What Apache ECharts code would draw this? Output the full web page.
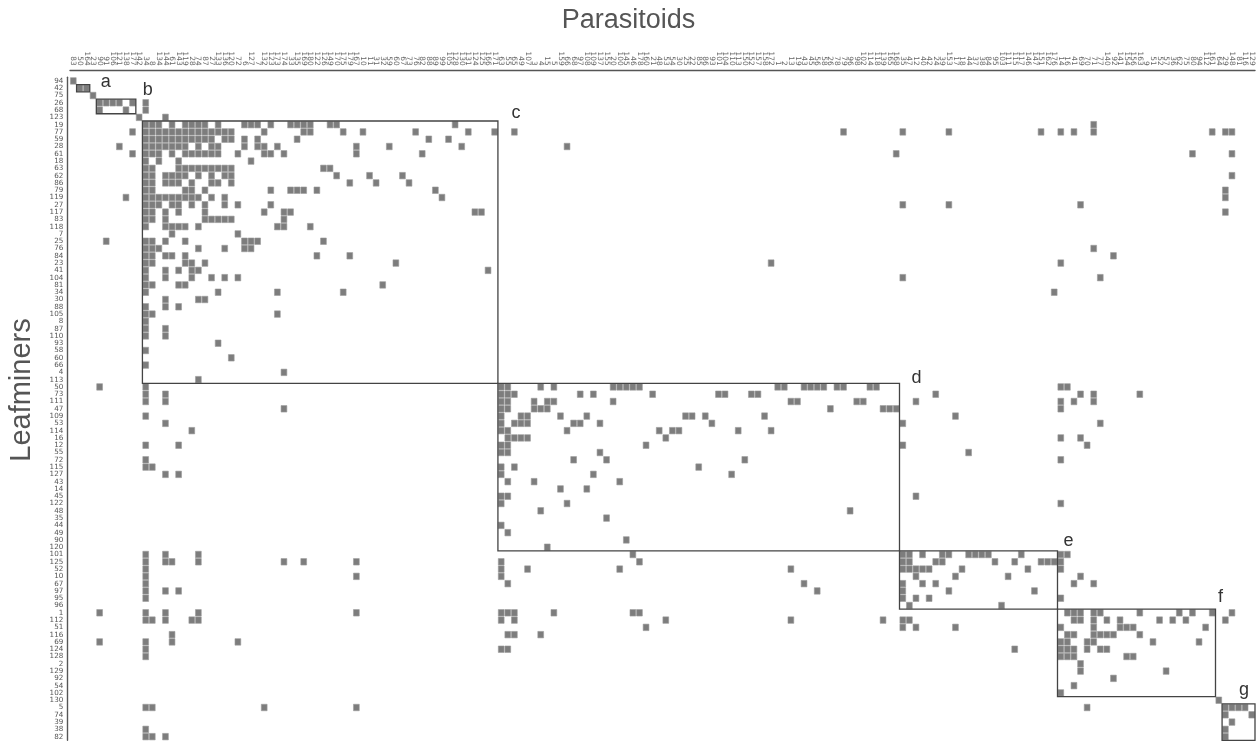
<!DOCTYPE html>
<html><head><meta charset="utf-8">
<script src="https://cdn.jsdelivr.net/npm/echarts@6/dist/echarts.min.js"></script>
<style>html,body{margin:0;padding:0;background:#fff}#c{width:1257px;height:743px}</style>
</head><body><div id="c"></div>
<script>
// Parasitoid columns (top axis), in plotted order
const parasitoids = ['83','50','164','23','90','91','106','121','138','177','142','34','8','134','144','61','143','119','28','74','87','27','133','136','120','72','6','127','7','132','123','173','174','33','135','169','180','122','126','149','170','175','179','167','10','11','31','32','59','60','67','73','76','82','88','89','99','105','128','130','131','124','125','166','171','63','55','65','49','107','3','4','15','5','159','66','68','97','108','109','137','155','20','100','145','46','178','160','21','48','53','54','30','25','22','85','86','93','101','104','110','113','150','152','157','158','172','1','2','13','19','43','45','56','58','26','78','79','96','98','102','114','118','139','165','168','35','47','12','40','42','24','39','153','17','18','44','37','38','84','95','103','111','115','117','146','147','151','162','176','14','16','41','69','70','71','77','140','92','141','154','156','163','9','51','52','57','36','62','75','80','94','112','161','64','29','148','81','116','129'];
// Leafminer rows (left axis), top to bottom
const leafminers = ['94','42','75','26','68','123','19','77','59','28','61','18','63','62','86','79','119','27','117','83','118','7','25','76','84','23','41','104','81','34','30','88','105','8','87','110','93','58','60','66','4','113','50','73','111','47','109','53','114','16','12','55','72','115','127','43','14','45','122','48','35','44','49','90','120','101','125','52','10','67','97','95','96','1','112','51','116','69','124','128','2','129','92','54','102','130','5','74','39','38','82'];
// For each leafminer row: indices of parasitoid columns with an interaction
const links = [
[0],[1,2],[3],[4,5,6,7,9,11],[4,8,11],[10,14],
[11,12,13,15,17,18,19,20,22,26,27,28,30,33,34,35,36,39,40,58,155],
[9,11,12,13,14,15,16,17,18,19,20,21,22,23,24,29,35,36,41,44,52,60,64,67,117,126,133,147,150,152,155,173,175,176],
[11,12,13,14,15,16,17,18,19,20,21,23,24,26,28,34,54,57],
[7,11,12,13,14,15,16,17,19,21,22,26,28,29,31,43,48,59,75],
[9,11,12,13,15,17,18,19,20,21,22,25,29,30,32,43,53,125,170,176],
[11,13,16,27],
[11,12,16,17,18,19,20,21,22,23,24,38,39],
[11,12,14,15,16,17,19,21,23,24,40,45,50,176],
[11,12,14,15,16,18,21,22,24,42,46,51],
[11,12,17,18,20,30,33,34,35,37,55,175],
[8,11,12,13,14,15,16,17,18,19,21,23,56,175],
[11,12,13,15,16,18,20,23,25,30,126,133,153],
[11,12,14,16,20,29,32,33,61,62,175],
[11,12,14,20,21,22,23,24,32],
[11,14,15,16,17,19,31,32,36],
[15,25],
[5,11,12,14,17,26,27,28,38],
[11,12,13,19,23,26,27,155],
[11,12,14,15,17,37,42,158],
[11,12,17,18,20,49,106,150],
[11,14,16,18,19,63],
[11,14,18,21,23,25,126,156],
[11,12,16,17,47],
[11,22,31,41,149],
[14,19,20],[11,14,16],[11,12,31],[11],[11,14],[11,14],[22],[11],[24],[11],[32],[19],
[4,11,65,66,71,73,82,83,84,85,86,107,108,111,112,113,114,116,117,121,122,150,151],
[11,14,65,66,67,77,79,88,98,99,103,104,131,153,155,162],
[11,14,65,66,70,72,73,82,109,110,119,120,128,150,152,155],
[32,65,66,70,71,72,115,123,124,125,150],
[11,65,68,69,74,78,93,94,96,105,134],
[14,65,67,68,69,76,77,80,97,126,156],
[18,65,66,75,89,91,92,101,106],
[66,67,68,69,90,150,153],
[11,16,65,66,87,126,154],
[65,66,80,136],
[11,76,81,102,150],
[11,12,65,67,95],
[14,16,65,79,100],
[66,70,83],
[74,78],
[65,66,128],
[65,75,150],
[71,118],[81],[65],[66],[84],[72],
[11,14,19,85,126,127,129,132,133,136,137,138,139,144,150,151],
[11,14,15,19,32,35,43,65,86,126,127,131,132,140,143,147,148,149,150],
[11,65,69,83,109,126,127,128,129,130,135,145,150],
[11,43,65,128,134,142,153],
[11,66,111,126,129,131,152,155],
[11,14,16,113,126,133,146],
[11,126,128,130,150],
[127,141],
[4,11,14,19,43,65,66,67,73,85,86,151,152,153,155,156,162,168,170,173,176],
[11,12,14,18,19,65,67,90,109,123,126,127,152,153,155,157,159,165,167,169,175],
[87,126,128,134,150,155,159,160,161,172],
[15,66,67,71,151,152,155,156,157,158,162],
[4,11,15,25,150,151,154,155,164,171],
[11,65,66,143,150,151,152,154,156,157],
[11,150,151,152,160,161],
[153],[153,166],[158],[152],[150],[174],
[11,12,29,43,154,175,176,177,178],
[175,179],[176],[11,175],[11,12,14,175]
];
// Modules (boxes): label, first/last parasitoid column, first/last leafminer row
const moduleNames = ['a','b','c','d','e','f','g'];
const moduleCols = [[1,2],[4,9],[11,64],[65,125],[126,149],[150,173],[175,179]];
const moduleRows = [[1,1],[3,4],[6,41],[42,64],[65,72],[73,84],[86,90]];

// label offsets from box top-right corner (styling)
const labelOffset = [[16,-3],[12,-9],[18,-8],[17,-5],[11,-10],[5,-12],[-11,-14]];

const cellData = [];
links.forEach((cols, r) => cols.forEach(c => cellData.push([c, r])));
const boxData = moduleNames.map((n, i) => [moduleCols[i][0], moduleCols[i][1], moduleRows[i][0], moduleRows[i][1], i]);

const chart = echarts.init(document.getElementById('c'), null, {renderer: 'canvas'});
chart.setOption({
  animation: false,
  backgroundColor: '#fff',
  title: {
    text: 'Parasitoids', left: 'center', top: 2,
    textStyle: {fontFamily: 'Liberation Sans', fontSize: 27, fontWeight: 'normal', color: '#555'}
  },
  graphic: [{
    type: 'text', x: 22, y: 390, rotation: Math.PI / 2,
    style: {text: 'Leafminers', font: '29px "Liberation Sans"', fill: '#555', textAlign: 'center', textVerticalAlign: 'middle'}
  }],
  grid: {left: 70, top: 77.3, width: 1185, height: 663, containLabel: false},
  xAxis: {
    type: 'category', position: 'top', data: parasitoids, offset: 6.6,
    axisLine: {show: true, lineStyle: {color: '#555', width: 1.4}},
    axisTick: {show: false}, splitLine: {show: false},
    axisLabel: {interval: 0, rotate: 90, fontSize: 7.4, fontFamily: 'DejaVu Sans', color: '#666', margin: 5}
  },
  yAxis: {
    type: 'category', data: leafminers, inverse: true, offset: 2.7,
    axisLine: {show: true, lineStyle: {color: '#555', width: 1.4}},
    axisTick: {show: false}, splitLine: {show: false},
    axisLabel: {interval: 0, fontSize: 7.2, fontFamily: 'DejaVu Sans', color: '#555', margin: 4}
  },
  series: [{
    type: 'custom', coordinateSystem: 'cartesian2d', data: cellData,
    encode: {x: 0, y: 1}, silent: true,
    renderItem: function (params, api) {
      const p = api.coord([api.value(0), api.value(1)]);
      const s = api.size([1, 1]);
      return {type: 'rect', shape: {x: p[0] - s[0] / 2 + 0.4, y: p[1] - s[1] / 2 + 0.4, width: s[0] - 0.8, height: s[1] - 0.8},
        style: {fill: '#7d7d7d', stroke: '#9a9a9a', lineWidth: 0.6}};
    }
  }, {
    type: 'custom', coordinateSystem: 'cartesian2d', data: boxData, z: 5,
    encode: {x: [0, 1], y: [2, 3]}, silent: true,
    renderItem: function (params, api) {
      const a = api.coord([api.value(0), api.value(2)]);
      const b = api.coord([api.value(1), api.value(3)]);
      const s = api.size([1, 1]);
      const x0 = a[0] - s[0] / 2, x1 = b[0] + s[0] / 2, y0 = a[1] - s[1] / 2, y1 = b[1] + s[1] / 2;
      const i = api.value(4);
      return {type: 'group', children: [
        {type: 'rect', shape: {x: x0, y: y0, width: x1 - x0, height: y1 - y0}, style: {fill: 'none', stroke: '#444', lineWidth: 1.3}},
        {type: 'text', x: x1 + labelOffset[i][0], y: y0 + labelOffset[i][1],
          style: {text: moduleNames[i], font: '18px "Liberation Sans"', fill: '#333', textAlign: 'center', textVerticalAlign: 'middle'}}
      ]};
    }
  }]
});
</script></body></html>
